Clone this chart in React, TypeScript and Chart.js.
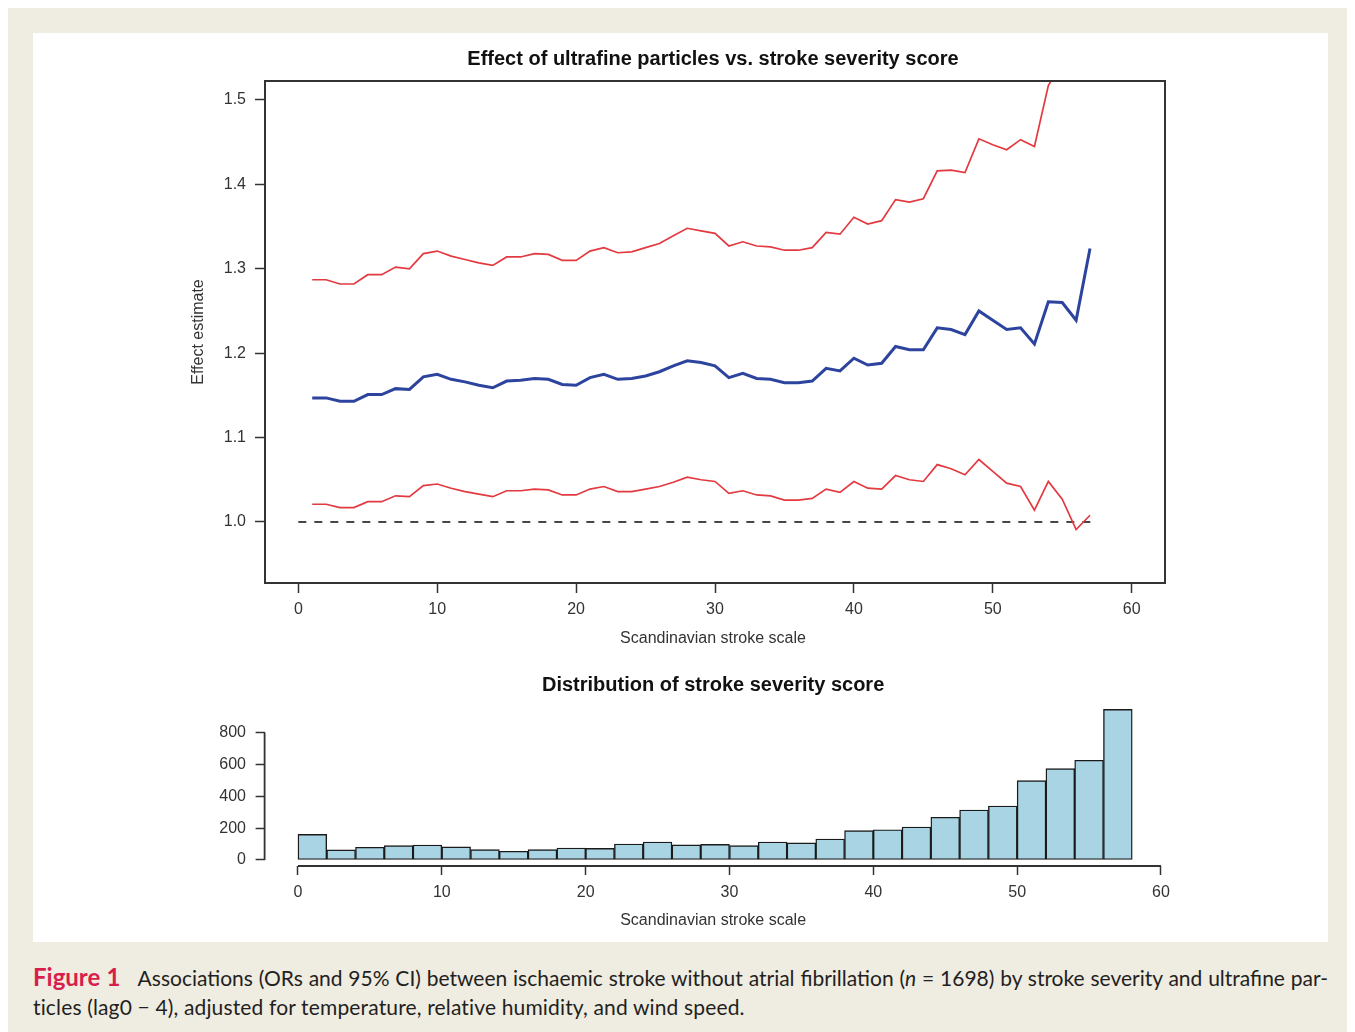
import { useEffect, useRef } from "react";
import { Chart, registerables } from "chart.js";

Chart.register(...registerables);

// ---------- data ----------
const scores = [
  1, 2, 3, 4, 5, 6, 7, 8, 9, 10, 11, 12, 13, 14, 15, 16, 17, 18, 19, 20,
  21, 22, 23, 24, 25, 26, 27, 28, 29, 30, 31, 32, 33, 34, 35, 36, 37, 38, 39, 40,
  41, 42, 43, 44, 45, 46, 47, 48, 49, 50, 51, 52, 53, 54, 55, 56, 57,
];
const estimate = [
  1.147, 1.147, 1.143, 1.143, 1.151, 1.151, 1.158, 1.157, 1.172, 1.175,
  1.169, 1.166, 1.162, 1.159, 1.167, 1.168, 1.170, 1.169, 1.163, 1.162,
  1.171, 1.175, 1.169, 1.170, 1.173, 1.178, 1.185, 1.191, 1.189, 1.185,
  1.171, 1.176, 1.170, 1.169, 1.165, 1.165, 1.167, 1.182, 1.179, 1.194,
  1.186, 1.188, 1.208, 1.204, 1.204, 1.230, 1.228, 1.222, 1.250, 1.239,
  1.228, 1.230, 1.211, 1.261, 1.260, 1.239, 1.324,
];
const lowerCI = [
  1.021, 1.021, 1.017, 1.017, 1.024, 1.024, 1.031, 1.030, 1.043, 1.045,
  1.040, 1.036, 1.033, 1.030, 1.037, 1.037, 1.039, 1.038, 1.032, 1.032,
  1.039, 1.042, 1.036, 1.036, 1.039, 1.042, 1.047, 1.053, 1.050, 1.048,
  1.034, 1.037, 1.032, 1.031, 1.026, 1.026, 1.028, 1.039, 1.035, 1.048,
  1.040, 1.039, 1.055, 1.050, 1.048, 1.068, 1.063, 1.056, 1.074, 1.060,
  1.046, 1.042, 1.014, 1.048, 1.027, 0.991, 1.008,
];
const upperCI = [
  1.287, 1.287, 1.282, 1.282, 1.293, 1.293, 1.302, 1.300, 1.318, 1.321,
  1.315, 1.311, 1.307, 1.304, 1.314, 1.314, 1.318, 1.317, 1.310, 1.310,
  1.321, 1.325, 1.319, 1.320, 1.325, 1.330, 1.339, 1.348, 1.345, 1.342,
  1.327, 1.332, 1.327, 1.326, 1.322, 1.322, 1.325, 1.343, 1.341, 1.361,
  1.353, 1.357, 1.382, 1.379, 1.383, 1.416, 1.417, 1.414, 1.454, 1.447,
  1.441, 1.453, 1.445, 1.517, 1.545, 1.549, 1.740,
];
const refLineX = [0, 57.5];
const refLineY = [1, 1];
const effectTicks = [1.0, 1.1, 1.2, 1.3, 1.4, 1.5];
const scaleTicks = [0, 10, 20, 30, 40, 50, 60];

const binCenters = [
  1, 3, 5, 7, 9, 11, 13, 15, 17, 19, 21, 23, 25, 27, 29, 31, 33, 35, 37, 39,
  41, 43, 45, 47, 49, 51, 53, 55, 57,
];
const binCounts = [
  161, 63, 80, 90, 94, 82, 65, 55, 65, 75, 73, 100, 113, 95, 98, 90, 113, 107,
  132, 184, 190, 207, 268, 314, 339, 498, 574, 626, 946,
];
const countTicks = [0, 200, 400, 600, 800];

// ---------- styling ----------
const FONT = '"Liberation Sans", Arial, Helvetica, sans-serif';
const RED = "#e23a40";
const BLUE = "#2d449e";
const AXIS = "#333333";

const textPlugin = {
  id: "rtext",
  afterDraw(chart: any, _args: any, opts: any) {
    const { ctx, chartArea: a } = chart;
    ctx.save();
    if (opts.frame) {
      ctx.strokeStyle = AXIS;
      ctx.lineWidth = 2;
      ctx.strokeRect(a.left, a.top, a.right - a.left, a.bottom - a.top);
    }
    if (opts.axisLines) {
      const xs = chart.scales.x;
      const ys = chart.scales.y;
      ctx.strokeStyle = AXIS;
      ctx.lineWidth = 1.8;
      ctx.beginPath();
      ctx.moveTo(xs.getPixelForValue(opts.axisLines.x[0]), a.bottom);
      ctx.lineTo(xs.getPixelForValue(opts.axisLines.x[1]), a.bottom);
      ctx.moveTo(a.left, ys.getPixelForValue(opts.axisLines.y[0]));
      ctx.lineTo(a.left, ys.getPixelForValue(opts.axisLines.y[1]));
      ctx.stroke();
    }
    const cx = (a.left + a.right) / 2 + (opts.dx || 0);
    ctx.textAlign = "center";
    ctx.textBaseline = "middle";
    ctx.fillStyle = "#111";
    ctx.font = `bold 20px ${FONT}`;
    ctx.fillText(opts.title, cx, a.top + opts.titleY);
    ctx.fillStyle = "#333";
    ctx.font = `16px ${FONT}`;
    ctx.fillText(opts.xLabel, cx, a.bottom + opts.xLabelY);
    if (opts.yLabel) {
      ctx.translate(a.left + opts.yLabelX, (a.top + a.bottom) / 2);
      ctx.rotate(-Math.PI / 2);
      ctx.fillText(opts.yLabel, 0, 0);
    }
    ctx.restore();
  },
};

const tickFont = { family: FONT, size: 16 };

export default function App() {
  const topRef = useRef<HTMLCanvasElement>(null);
  const histRef = useRef<HTMLCanvasElement>(null);

  useEffect(() => {
    const line = (ys: number[], color: string, width: number) => ({
      data: scores.map((x, i) => ({ x, y: ys[i] })),
      borderColor: color,
      backgroundColor: color,
      borderWidth: width,
      pointRadius: 0,
      tension: 0,
      fill: false,
    });

    const top = new Chart(topRef.current as HTMLCanvasElement, {
      type: "line",
      data: {
        datasets: [
          { label: "Upper 95% CI", ...line(upperCI, RED, 1.7) },
          { label: "Lower 95% CI", ...line(lowerCI, RED, 1.7) },
          { label: "Estimate", ...line(estimate, BLUE, 3) },
          {
            label: "No effect",
            data: refLineX.map((x, i) => ({ x, y: refLineY[i] })),
            borderColor: "#1a1a1a",
            borderWidth: 1.6,
            borderDash: [8, 8],
            pointRadius: 0,
            fill: false,
          },
        ],
      },
      options: {
        responsive: false,
        animation: false,
        events: [],
        layout: { padding: { left: 0, right: 163, top: 48, bottom: 0 } },
        plugins: {
          legend: { display: false },
          tooltip: { enabled: false },
          rtext: {
            frame: true,
            dx: -2,
            title: "Effect of ultrafine particles vs. stroke severity score",
            titleY: -22,
            xLabel: "Scandinavian stroke scale",
            xLabelY: 56,
            yLabel: "Effect estimate",
            yLabelX: -66,
          },
        } as any,
        scales: {
          x: {
            type: "linear",
            min: -2.4,
            max: 62.4,
            afterBuildTicks: (s: any) => {
              s.ticks = scaleTicks.map((v) => ({ value: v }));
            },
            afterFit: (s: any) => {
              s.height = 75;
            },
            border: { display: false },
            grid: {
              display: true,
              drawOnChartArea: false,
              drawTicks: true,
              tickLength: 10,
              tickColor: AXIS,
              tickWidth: 1.5,
            },
            ticks: {
              autoSkip: false,
              maxRotation: 0,
              padding: 7,
              color: "#333",
              font: tickFont,
              callback: (v: any) => String(v),
            },
          },
          y: {
            type: "linear",
            min: 0.9277,
            max: 1.5225,
            afterBuildTicks: (s: any) => {
              s.ticks = effectTicks.map((v) => ({ value: v }));
            },
            afterFit: (s: any) => {
              s.width = 232;
            },
            border: { display: false },
            grid: {
              display: true,
              drawOnChartArea: false,
              drawTicks: true,
              tickLength: 10,
              tickColor: AXIS,
              tickWidth: 1.5,
            },
            ticks: {
              autoSkip: false,
              padding: 9,
              color: "#333",
              font: tickFont,
              callback: (v: any) => Number(v).toFixed(1),
            },
          },
        },
      },
      plugins: [textPlugin],
    });

    const hist = new Chart(histRef.current as HTMLCanvasElement, {
      type: "bar",
      data: {
        datasets: [
          {
            label: "Frequency",
            data: binCenters.map((x, i) => ({ x, y: binCounts[i] })),
            backgroundColor: "#a9d4e4",
            borderColor: "#1a1a1a",
            borderWidth: 1.4,
            borderSkipped: false,
            barPercentage: 1,
            categoryPercentage: 1,
          },
        ],
      },
      options: {
        responsive: false,
        animation: false,
        events: [],
        layout: { padding: { left: 0, right: 162.4, top: 43.3, bottom: 0 } },
        plugins: {
          legend: { display: false },
          tooltip: { enabled: false },
          rtext: {
            frame: false,
            dx: -2,
            axisLines: { x: [0, 60], y: [0, 800] },
            title: "Distribution of stroke severity score",
            titleY: -17.5,
            xLabel: "Scandinavian stroke scale",
            xLabelY: 55,
          },
        } as any,
        scales: {
          x: {
            type: "linear",
            min: -2.32,
            max: 60.32,
            offset: false,
            afterBuildTicks: (s: any) => {
              s.ticks = scaleTicks.map((v) => ({ value: v }));
            },
            afterFit: (s: any) => {
              s.height = 74;
            },
            border: { display: false },
            grid: {
              display: true,
              offset: false,
              drawOnChartArea: false,
              drawTicks: true,
              tickLength: 9,
              tickColor: AXIS,
              tickWidth: 1.5,
            },
            ticks: {
              autoSkip: false,
              maxRotation: 0,
              padding: 8,
              color: "#333",
              font: tickFont,
              callback: (v: any) => String(v),
            },
          },
          y: {
            type: "linear",
            min: -37.8,
            max: 983.8,
            afterBuildTicks: (s: any) => {
              s.ticks = countTicks.map((v) => ({ value: v }));
            },
            afterFit: (s: any) => {
              s.width = 231.6;
            },
            border: { display: false },
            grid: {
              display: true,
              drawOnChartArea: false,
              drawTicks: true,
              tickLength: 9,
              tickColor: AXIS,
              tickWidth: 1.5,
            },
            ticks: {
              autoSkip: false,
              padding: 9.6,
              color: "#333",
              font: tickFont,
              callback: (v: any) => String(v),
            },
          },
        },
      },
      plugins: [textPlugin],
    });

    return () => {
      top.destroy();
      hist.destroy();
    };
  }, []);

  return (
    <div
      style={{
        position: "relative",
        width: 1347,
        height: 1024,
        background: "#efece2",
        overflow: "hidden",
      }}
    >
      <div
        style={{
          position: "absolute",
          left: 25,
          top: 25,
          width: 1295,
          height: 909,
          background: "#ffffff",
        }}
      >
        <canvas
          ref={topRef}
          width={1295}
          height={625}
          style={{ position: "absolute", left: 0, top: 0, width: 1295, height: 625 }}
        />
        <canvas
          ref={histRef}
          width={1295}
          height={280}
          style={{ position: "absolute", left: 0, top: 627, width: 1295, height: 280 }}
        />
      </div>
      <div
        style={{
          position: "absolute",
          left: 25,
          top: 954,
          width: 1295,
          fontFamily: "Lato, 'Open Sans', sans-serif",
          fontSize: 21,
          lineHeight: "29px",
          color: "#231f20",
        }}
      >
        <div
          style={{
            textAlign: "justify",
            textAlignLast: "justify",
            whiteSpace: "nowrap",
            wordSpacing: -4,
          }}
        >
          <span style={{ color: "#d81e4b", fontWeight: 700, fontSize: 24, marginRight: 12 }}>
            Figure 1
          </span>
          {" Associations (ORs and 95% CI) between ischaemic stroke without atrial fibrillation ("}
          <i>n</i>
          {" = 1698) by stroke severity and ultrafine par-"}
        </div>
        <div style={{ letterSpacing: 0.15 }}>
          ticles (lag0 − 4), adjusted for temperature, relative humidity, and wind speed.
        </div>
      </div>
    </div>
  );
}
